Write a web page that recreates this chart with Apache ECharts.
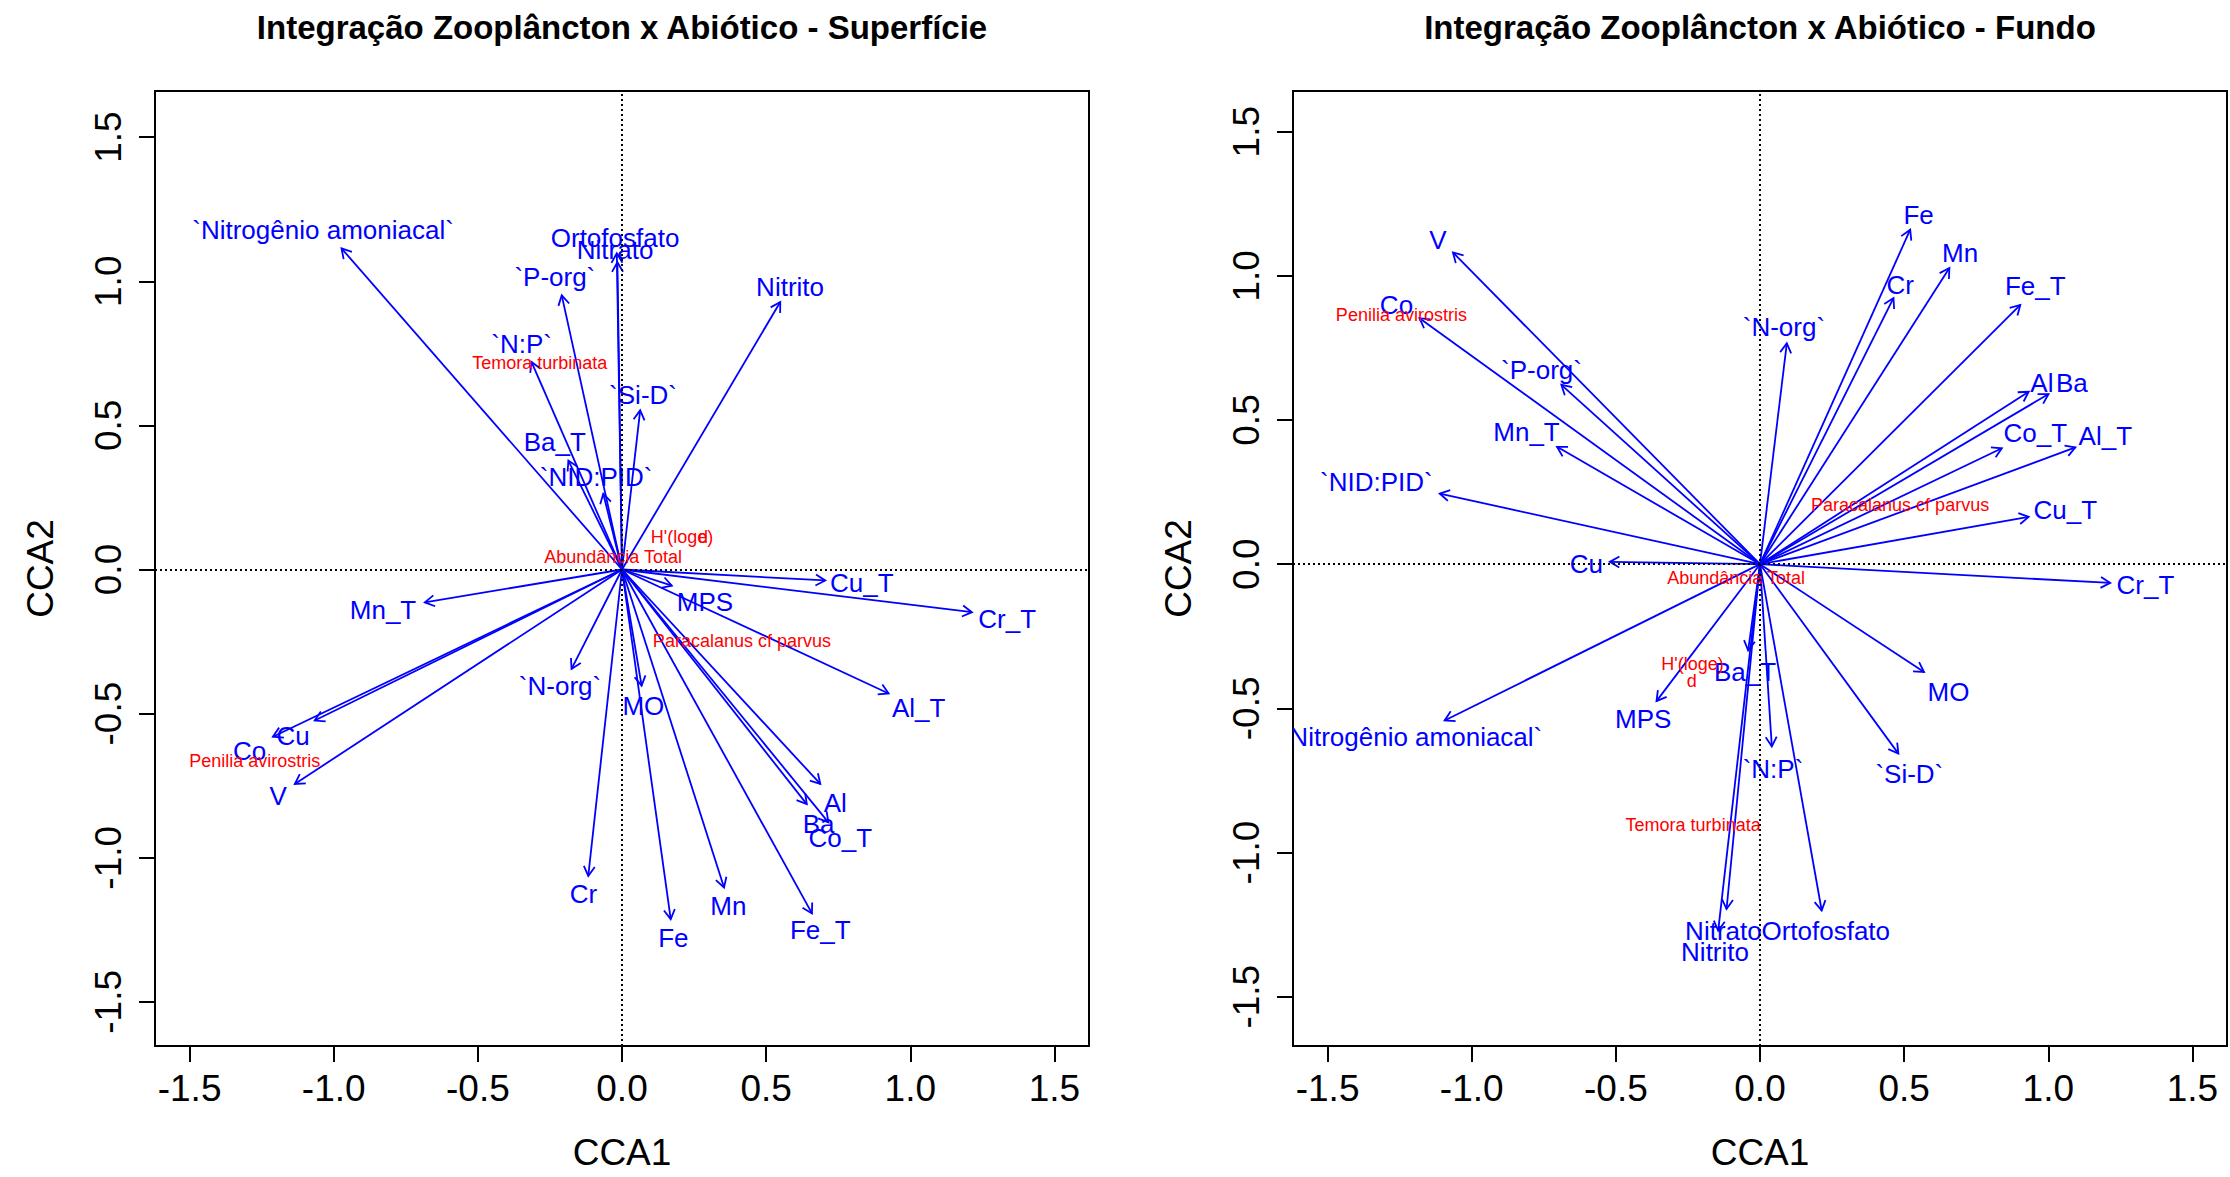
<!DOCTYPE html>
<html><head><meta charset="utf-8">
<script src="https://cdn.jsdelivr.net/npm/echarts@6/dist/echarts.min.js"></script>
<style>html,body{margin:0;padding:0;background:#fff}#c{width:2230px;height:1177px}</style>
</head><body><div id="c"></div>
<script>
// ---------- DATA ----------
const envVars = ['`Nitrogênio amoniacal`','Ortofosfato','Nitrato','`P-org`','Nitrito','`N:P`','`Si-D`','Ba_T','`NID:PID`','Mn_T','Cu_T','MPS','Cr_T','`N-org`','MO','Al_T','Co','Cu','V','Al','Ba','Co_T','Cr','Mn','Fe','Fe_T'];

// Superfície: biplot arrow tips (CCA1, CCA2)
const supArrowX = [-0.973,-0.018,-0.016,-0.209,0.549,-0.314,0.063,-0.186,-0.065,-0.684,0.705,0.173,1.214,-0.175,0.068,0.925,-1.211,-1.066,-1.135,0.688,0.641,0.716,-0.117,0.354,0.169,0.659];
const supArrowY = [1.114,1.097,1.066,0.951,0.928,0.720,0.552,0.378,0.263,-0.114,-0.038,-0.056,-0.148,-0.345,-0.403,-0.430,-0.580,-0.524,-0.744,-0.744,-0.814,-0.877,-1.063,-1.103,-1.213,-1.193];
// Superfície: label positions
const supLabelX = [-1.037,-0.024,-0.024,-0.233,0.583,-0.348,0.073,-0.233,-0.090,-0.829,0.832,0.288,1.336,-0.215,0.074,1.029,-1.292,-1.141,-1.193,0.740,0.682,0.757,-0.134,0.369,0.178,0.688];
const supLabelY = [1.177,1.149,1.108,1.015,0.980,0.784,0.604,0.442,0.320,-0.140,-0.046,-0.114,-0.171,-0.403,-0.472,-0.480,-0.628,-0.576,-0.785,-0.810,-0.883,-0.932,-1.126,-1.167,-1.279,-1.251];

// Fundo: biplot arrow tips
const funArrowX = [-1.094,0.214,-0.116,-0.689,-0.145,0.041,0.480,-0.041,-1.111,-0.704,0.932,-0.359,1.215,0.093,0.569,1.094,-1.181,-0.521,-1.065,0.932,1.001,0.839,0.463,0.657,0.521,0.903];
const funArrowY = [-0.542,-1.201,-1.196,0.622,-1.271,-0.632,-0.657,-0.299,0.245,0.407,0.164,-0.475,-0.065,0.766,-0.374,0.405,0.853,0.008,1.081,0.598,0.590,0.402,0.923,1.027,1.160,0.899];
// Fundo: label positions
const funLabelX = [-1.209,0.228,-0.127,-0.758,-0.156,0.045,0.518,-0.052,-1.331,-0.810,1.059,-0.405,1.337,0.083,0.654,1.198,-1.261,-0.602,-1.117,0.978,1.082,0.955,0.486,0.694,0.550,0.955];
const funLabelY = [-0.600,-1.271,-1.271,0.674,-1.346,-0.709,-0.727,-0.374,0.286,0.459,0.188,-0.538,-0.073,0.824,-0.443,0.444,0.899,0.002,1.125,0.627,0.627,0.454,0.969,1.079,1.212,0.963];

// Response (species / indices) scores
const species = ['Abundância Total',"H'(loge)",'d','Temora turbinata','Penilia avirostris','Paracalanus cf parvus'];
const supSppX = [-0.031,0.208,0.281,-0.285,-1.274,0.416];
const supSppY = [0.043,0.112,0.112,0.716,-0.663,-0.247];
const funSppX = [-0.083,-0.234,-0.237,-0.232,-1.244,0.486];
const funSppY = [-0.049,-0.347,-0.405,-0.903,0.865,0.205];

const tickValues = [-1.5,-1.0,-0.5,0.0,0.5,1.0,1.5];
const tickLabels = ['-1.5','-1.0','-0.5','0.0','0.5','1.0','1.5'];
const titles = ['Integração Zooplâncton x Abiótico - Superfície','Integração Zooplâncton x Abiótico - Fundo'];
const xName = 'CCA1', yName = 'CCA2';

// ---------- CHART ----------
const FONT = '"Liberation Sans", Arial, Helvetica, sans-serif';
const BLUE = '#0000ff', RED = '#ff0000';
const chart = echarts.init(document.getElementById('c'), null, {renderer:'svg', width:2230, height:1177});

const grids = [
  {left:155, top:91, width:934, height:955},
  {left:1293, top:91, width:934, height:955}
];
const yRanges = [[-1.653,1.660],[-1.671,1.641]];

function fmt(v){ const i = tickValues.findIndex(t => Math.abs(t - v) < 1e-9); return i >= 0 ? tickLabels[i] : ''; }

function xAxisCfg(g){
  return {type:'value', gridIndex:g, min:-1.62, max:1.62,
    name:xName, nameLocation:'middle', nameGap:88,
    nameTextStyle:{fontSize:37, color:'#000', fontFamily:FONT},
    axisLine:{show:false, onZero:false},
    axisTick:{show:true, customValues:tickValues, length:16, inside:false, lineStyle:{color:'#000', width:2}},
    axisLabel:{customValues:tickValues, formatter:fmt, fontSize:37, color:'#000', fontFamily:FONT, margin:24},
    splitLine:{show:false}};
}
function yAxisCfg(g){
  return {type:'value', gridIndex:g, min:yRanges[g][0], max:yRanges[g][1],
    name:yName, nameLocation:'middle', nameGap:96,
    nameTextStyle:{fontSize:37, color:'#000', fontFamily:FONT},
    axisLine:{show:false, onZero:false},
    axisTick:{show:true, customValues:tickValues, length:16, lineStyle:{color:'#000', width:2}},
    axisLabel:{customValues:tickValues, formatter:fmt, fontSize:37, color:'#000', fontFamily:FONT, rotate:90, margin:28},
    splitLine:{show:false}};
}

function arrowSeries(g, xs, ys){
  return {type:'custom', xAxisIndex:g, yAxisIndex:g, clip:true, silent:true, z:3,
    data: xs.map((x,i)=>[x, ys[i]]),
    renderItem: function(params, api){
      const o = api.coord([0,0]);
      const p = api.coord([api.value(0), api.value(1)]);
      const dx = p[0]-o[0], dy = p[1]-o[1];
      const len = Math.hypot(dx,dy) || 1;
      const ux = dx/len, uy = dy/len;
      const L = 11, a = Math.PI/6, c = Math.cos(a), s = Math.sin(a);
      const h1 = [p[0] - L*(ux*c - uy*s), p[1] - L*(uy*c + ux*s)];
      const h2 = [p[0] - L*(ux*c + uy*s), p[1] - L*(uy*c - ux*s)];
      return {type:'group', children:[
        {type:'line', shape:{x1:o[0], y1:o[1], x2:p[0], y2:p[1]}, style:{stroke:BLUE, lineWidth:1.8}},
        {type:'polyline', shape:{points:[h1, p, h2]}, style:{stroke:BLUE, lineWidth:1.8, fill:null}}
      ]};
    },
    markLine:{silent:true, symbol:'none', label:{show:false},
      lineStyle:{color:'#000', type:[2,3], width:2},
      data:[{xAxis:0},{yAxis:0}]}
  };
}

function labelSeries(g, xs, ys, names, color, size){
  return {type:'custom', xAxisIndex:g, yAxisIndex:g, clip:true, silent:true, z:4,
    data: xs.map((x,i)=>[x, ys[i]]),
    renderItem: function(params, api){
      const p = api.coord([api.value(0), api.value(1)]);
      return {type:'text', x:p[0], y:p[1],
        style:{text:names[params.dataIndex], fill:color, fontSize:size, fontFamily:FONT,
          align:'center', verticalAlign:'middle', textAlign:'center', textVerticalAlign:'middle'}};
    }
  };
}

const option = {
  backgroundColor:'#fff',
  animation:false,
  grid: grids.map(g => Object.assign({show:true, borderColor:'#000', borderWidth:2, backgroundColor:'transparent', containLabel:false}, g)),
  xAxis:[xAxisCfg(0), xAxisCfg(1)],
  yAxis:[yAxisCfg(0), yAxisCfg(1)],
  graphic:[
    {type:'text', x:622, y:27, style:{text:titles[0], fontSize:33, fontWeight:'bold', fontFamily:FONT, fill:'#000', align:'center', verticalAlign:'middle', textAlign:'center', textVerticalAlign:'middle'}},
    {type:'text', x:1760, y:27, style:{text:titles[1], fontSize:33, fontWeight:'bold', fontFamily:FONT, fill:'#000', align:'center', verticalAlign:'middle', textAlign:'center', textVerticalAlign:'middle'}}
  ],
  series:[
    arrowSeries(0, supArrowX, supArrowY),
    labelSeries(0, supLabelX, supLabelY, envVars, BLUE, 26),
    labelSeries(0, supSppX, supSppY, species, RED, 18),
    arrowSeries(1, funArrowX, funArrowY),
    labelSeries(1, funLabelX, funLabelY, envVars, BLUE, 26),
    labelSeries(1, funSppX, funSppY, species, RED, 18)
  ]
};
chart.setOption(option);
</script></body></html>
